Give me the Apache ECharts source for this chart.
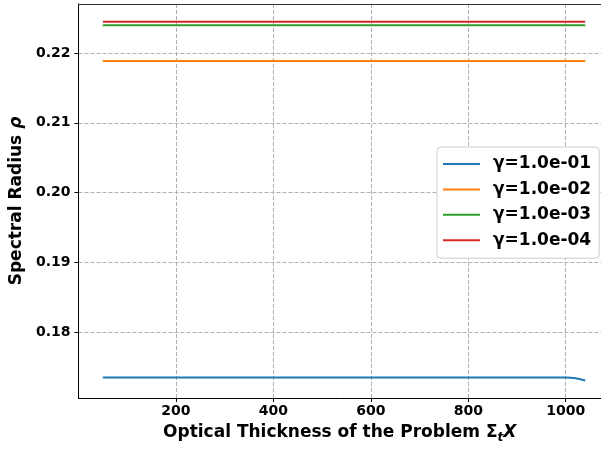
<!DOCTYPE html>
<html><head><meta charset="utf-8">
<script src="https://cdn.jsdelivr.net/npm/echarts@6/dist/echarts.min.js"></script>
<style>html,body{margin:0;padding:0;background:#fff}#c{width:601px;height:449px}</style>
</head><body><div id="c"></div>
<script>
const xValues = [50, 200, 400, 600, 800, 1000, 1010, 1020, 1030, 1040];
const gamma1 = [0.17350, 0.17350, 0.17350, 0.17350, 0.17350, 0.17350, 0.17346, 0.17337, 0.17323, 0.17306];
const gamma2 = [0.21886, 0.21886, 0.21886, 0.21886, 0.21886, 0.21886, 0.21886, 0.21886, 0.21886, 0.21886];
const gamma3 = [0.22398, 0.22398, 0.22398, 0.22398, 0.22398, 0.22398, 0.22398, 0.22398, 0.22398, 0.22398];
const gamma4 = [0.22446, 0.22446, 0.22446, 0.22446, 0.22446, 0.22446, 0.22446, 0.22446, 0.22446, 0.22446];
const seriesNames = ['γ=1.0e-01', 'γ=1.0e-02', 'γ=1.0e-03', 'γ=1.0e-04'];
const colors = ['#1f77b4', '#ff7f0e', '#2ca02c', '#d62728'];
const allSeries = [gamma1, gamma2, gamma3, gamma4];

const chart = echarts.init(document.getElementById('c'), null, {renderer: 'canvas'});
const font = 'DejaVu Sans';
const gridLine = {show: true, lineStyle: {color: '#b0b0b0', type: [4, 2], width: 1}};
chart.setOption({
  animation: false,
  color: colors,
  grid: {left: 78.2, top: 4, right: 0, bottom: 48.3, show: false},
  xAxis: [{
    type: 'value', min: 0, max: 1072.4, interval: 200,
    name: '{n|Optical Thickness of the Problem Σ}{s|t}{i|X}',
    nameLocation: 'middle', nameGap: 24,
    nameTextStyle: {rich: {
      n: {fontFamily: font, fontWeight: 'bold', fontSize: 17, color: '#000'},
      s: {fontFamily: font, fontWeight: 'bold', fontStyle: 'italic', fontSize: 12, color: '#000', padding: [10, 0, 0, 0]},
      i: {fontFamily: font, fontWeight: 'bold', fontStyle: 'italic', fontSize: 17, color: '#000'}
    }},
    axisLine: {show: true, onZero: false, lineStyle: {color: '#000', width: 1}},
    axisTick: {show: true, inside: false, length: 4, lineStyle: {color: '#000', width: 1}},
    axisLabel: {fontFamily: font, fontWeight: 'bold', fontSize: 14, color: '#000', margin: 6, showMinLabel: false, showMaxLabel: false,
      formatter: v => String(v)},
    splitLine: gridLine
  }, {
    type: 'value', position: 'top', min: 0, max: 1072.4,
    axisLine: {show: true, onZero: false, lineStyle: {color: '#333', width: 1}},
    axisTick: {show: false}, axisLabel: {show: false}, splitLine: {show: false}
  }],
  yAxis: {
    type: 'value', min: 0.17055, max: 0.22702,
    name: '{n|Spectral Radius }{i|ρ}',
    nameLocation: 'middle', nameGap: 49,
    nameTextStyle: {rich: {
      n: {fontFamily: font, fontWeight: 'bold', fontSize: 17, color: '#000'},
      i: {fontFamily: font, fontWeight: 'bold', fontStyle: 'italic', fontSize: 17, color: '#000'}
    }},
    axisLine: {show: true, onZero: false, lineStyle: {color: '#000', width: 1}},
    axisTick: {show: true, inside: false, length: 4, lineStyle: {color: '#000', width: 1}},
    axisLabel: {fontFamily: font, fontWeight: 'bold', fontSize: 14, color: '#000', margin: 8, showMinLabel: false, showMaxLabel: false,
      formatter: v => v.toFixed(2)},
    splitLine: gridLine
  },
  legend: {
    left: 437, top: 147, orient: 'vertical',
    backgroundColor: '#fff', borderColor: '#cccccc', borderWidth: 1, borderRadius: 4,
    padding: [7, 8, 8, 6], itemGap: 5.4, itemWidth: 37, itemHeight: 2, icon: 'rect',
    textStyle: {fontFamily: font, fontWeight: 'bold', fontSize: 17, color: '#000', lineHeight: 20, padding: [0, 0, 0, 8]},
    data: seriesNames
  },
  series: allSeries.map((vals, k) => ({
    name: seriesNames[k], type: 'line', showSymbol: false, symbol: 'none',
    lineStyle: {width: 2, color: colors[k]}, itemStyle: {color: colors[k]},
    data: xValues.map((x, i) => [x, vals[i]])
  }))
});
</script></body></html>
